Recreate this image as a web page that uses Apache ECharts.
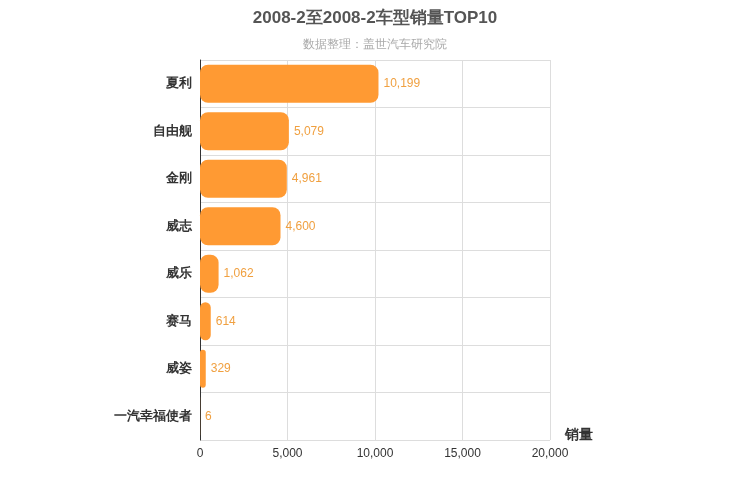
<!DOCTYPE html>
<html>
<head>
<meta charset="utf-8">
<script src="https://cdn.jsdelivr.net/npm/echarts@6/dist/echarts.min.js"></script>
<style>html,body{margin:0;padding:0}#main{width:750px;height:500px}</style>
</head>
<body>
<div id="main"></div>
<script>
var models = ['夏利', '自由舰', '金刚', '威志', '威乐', '赛马', '威姿', '一汽幸福使者'];
var sales = [10199, 5079, 4961, 4600, 1062, 614, 329, 6];
var xTicks = [0, 5000, 10000, 15000, 20000];

var myChart = echarts.init(document.getElementById('main'));
myChart.setOption({
    title: {
        text: '2008-2至2008-2车型销量TOP10',
        subtext: '数据整理：盖世汽车研究院',
        left: 'center',
        top: 5,
        itemGap: 12,
        textStyle: {fontSize: 17, fontWeight: 'bold', color: '#555'},
        subtextStyle: {fontSize: 12, color: '#aaa'}
    },
    grid: {left: 200, right: 200, top: 60, bottom: 60},
    xAxis: {
        type: 'value',
        min: xTicks[0],
        max: xTicks[xTicks.length - 1],
        interval: 5000,
        name: '销量',
        nameLocation: 'end',
        nameGap: 15,
        nameTextStyle: {fontSize: 14, fontWeight: 'bold', color: '#333', verticalAlign: 'top', padding: [-12, 0, 0, 0]},
        axisLine: {show: false},
        axisTick: {show: false},
        axisLabel: {color: '#333', fontSize: 12},
        splitLine: {lineStyle: {color: '#ddd'}}
    },
    yAxis: {
        type: 'category',
        data: models,
        inverse: true,
        axisLine: {lineStyle: {color: '#333'}},
        axisTick: {show: false},
        axisLabel: {color: '#333', fontSize: 13, fontWeight: 'bold', margin: 8},
        splitLine: {show: true, lineStyle: {color: '#ddd'}}
    },
    series: [{
        type: 'bar',
        data: sales,
        barWidth: '80%',
        itemStyle: {color: '#ff9a33', borderRadius: 8},
        label: {
            show: true,
            position: 'right',
            color: '#f0a040',
            fontSize: 12,
            formatter: function (p) { return p.value.toLocaleString('en-US'); }
        }
    }]
});
</script>
</body>
</html>
